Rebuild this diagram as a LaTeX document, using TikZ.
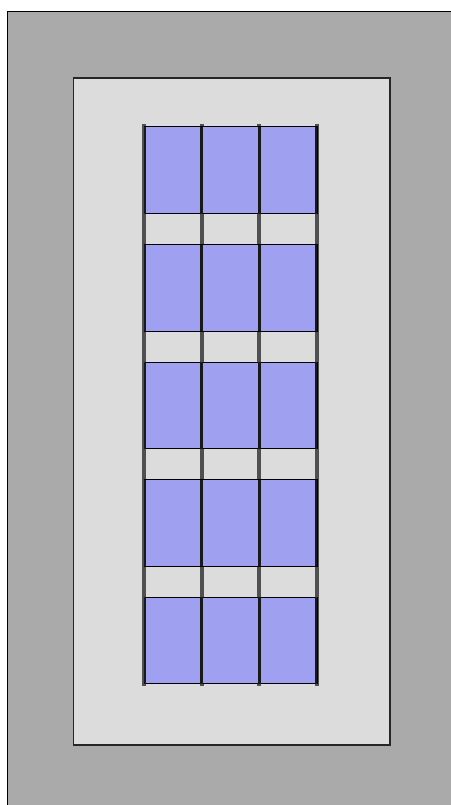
\documentclass[tikz,border=0pt]{standalone}
\definecolor{outergray}{RGB}{170,170,170}
\definecolor{innergray}{RGB}{220,220,220}
\definecolor{panelblue}{RGB}{160,160,240}
\definecolor{postgray}{RGB}{80,80,80}
\tikzset{
  outerbox/.style={fill=outergray,draw=black,line width=1pt},
  innerbox/.style={fill=innergray,draw=black!85,line width=1.2pt},
  post/.style={draw=postgray,line width=4pt},
  panel/.style={fill=panelblue,draw=black,line width=1pt},
  mullion/.style={draw=black!90,line width=2.6pt},
  jamb/.style={draw=black!90,line width=1.6pt},
}
\begin{document}
\begin{tikzpicture}[x=1pt,y=-1pt]
\useasboundingbox (0,0) rectangle (450,805);
\fill[white] (0,0) rectangle (450,805);
\draw[outerbox] (7.5,11.5) rectangle (460,815);
\draw[innerbox] (73.5,78) rectangle (390,745);
\foreach \x in {144,201.67,259.33,317}
  \draw[post] (\x,124) -- (\x,686);
\foreach \k in {0,...,4}{
  \pgfmathsetmacro{\ytop}{127+117.5*\k}
  \pgfmathsetmacro{\ybot}{\ytop+86.5}
  \foreach \xa/\xb in {144/201.67,201.67/259.33,259.33/317}
    \draw[panel] (\xa,\ytop) rectangle (\xb,\ybot);
  \foreach \x in {201.67,259.33}
    \draw[mullion] (\x,\ytop) -- (\x,\ybot);
  \draw[jamb] (144.8,\ytop) -- (144.8,\ybot);
  \draw[jamb] (316.2,\ytop) -- (316.2,\ybot);
}
\end{tikzpicture}
\end{document}
